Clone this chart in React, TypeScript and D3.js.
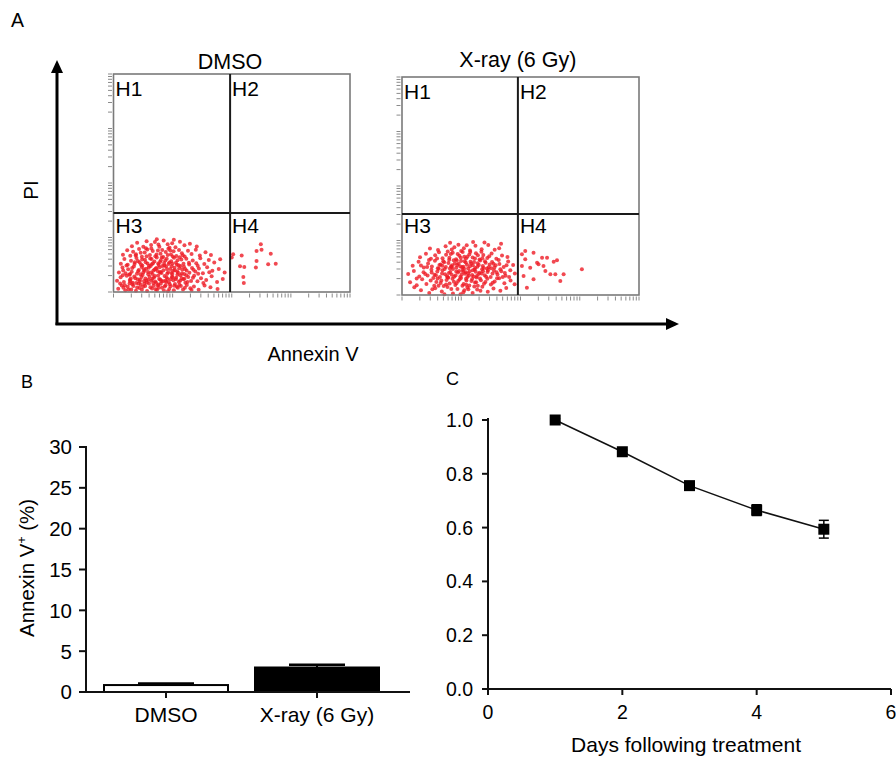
import React from 'react';
import * as d3 from 'd3';

const FONT = "'Liberation Sans', Arial, Helvetica, sans-serif";

// ---------- Panel A: flow cytometry (Annexin V vs PI), channel % of full scale ----------
const flowTitles = ['DMSO', 'X-ray (6 Gy)'];
const quadrantLabels = ['H1', 'H2', 'H3', 'H4'];
const gateXPct = [49.3, 48.9];
const gateYPct = [36.2, 37.2];

const dmsoEvents: [number, number][] = [
  [2,1.5],[3.5,3],[5,0.8],[6,2.4],[7.5,1.2],[8,3.6],[9.5,0.6],[10,2.1],[11.5,3.3],[12,1.0],[13.4,2.7],[14.2,0.5],[15,3.9],[16.3,1.6],[17,2.9],[18.4,0.9],[19,3.4],[20.5,2.0],[21.3,0.7],[22,3.1],[23.6,1.4],[24.1,2.6],[25.5,0.8],[26,3.7],[27.2,1.9],[28.5,2.8],[29.4,1.1],[31,3.2],[32.5,1.7],[34,2.5],[36,1.0],[38.5,3.0],[41,2.2],[44,1.4],[4.2,2.0],[6.8,3.9],[11,1.8],[13,3.8],[17.8,1.3],[20,3.8],[23,0.4],[26.8,2.4],[30.2,2.0],[33,0.9],
  [1.5,5.2],[3,6.8],[4.4,4.6],[5.6,7.5],[6.9,5.5],[8.1,4.3],[8.8,7.1],[10.2,5.9],[11.1,4.8],[12.3,7.8],[13.5,6.2],[14.1,4.4],[15.2,7.0],[16,5.3],[17.1,6.6],[18,4.2],[18.9,7.6],[19.8,5.7],[20.9,4.9],[21.6,7.3],[22.8,6.0],[23.4,4.5],[24.7,7.0],[25.3,5.4],[26.5,6.5],[27.6,4.7],[28.3,7.7],[29.5,5.8],[30.4,4.3],[31.6,6.9],[32.8,5.1],[34.1,7.4],[35.5,4.9],[37,6.3],[39.2,5.5],[41.5,7.2],[43.8,4.6],[46.2,6.0],[7.3,6.2],[9.6,4.1],[14.8,5.6],[19.3,6.0],[24.1,5.9],[27,7.9],[30,6.1],[12.9,5.0],[17.6,4.8],[21.9,5.2],
  [2.3,9.0],[3.8,11.2],[5.1,8.6],[6.2,10.4],[7.7,9.3],[8.6,11.7],[9.9,8.4],[10.7,10.1],[11.9,11.5],[12.6,8.9],[13.8,10.7],[14.6,9.2],[15.7,11.9],[16.5,8.3],[17.4,10.3],[18.6,9.6],[19.5,11.4],[20.3,8.7],[21.1,10.0],[22.2,11.8],[23.1,9.1],[24.0,10.6],[24.9,8.2],[25.8,11.1],[26.9,9.5],[27.8,10.9],[28.9,8.5],[29.8,11.6],[30.9,9.9],[32.1,8.8],[33.2,11.0],[34.6,9.4],[36.1,10.8],[37.8,8.6],[39.6,11.3],[41.8,9.7],[44.5,10.5],[47,8.9],[13.1,9.8],[16.9,9.9],[20.7,11.9],[25.2,9.8],[29.1,10.2],[11.4,8.1],[22.7,8.4],[18.1,11.0],
  [3.1,13.0],[4.6,15.1],[6.0,12.5],[7.4,14.3],[8.9,12.9],[9.7,15.6],[11.0,13.6],[12.2,12.2],[13.3,14.8],[14.4,13.1],[15.5,15.4],[16.2,12.7],[17.3,14.0],[18.3,15.8],[19.1,12.4],[20.0,14.6],[21.4,13.3],[22.5,15.2],[23.3,12.8],[24.4,14.1],[25.6,15.7],[26.4,13.4],[27.5,12.3],[28.7,14.9],[29.6,13.0],[30.8,15.3],[32.0,12.6],[33.5,14.4],[35.0,13.2],[36.7,15.5],[38.4,12.9],[40.3,14.7],[42.6,13.5],[45.1,15.0],[10.3,14.2],[15.0,12.0],[19.7,13.8],[24.9,13.0],[28.0,15.9],[21.9,14.5],
  [4.0,17.1],[5.8,19.2],[7.1,16.6],[8.3,18.5],[9.5,17.3],[10.8,19.7],[12.0,16.2],[13.2,18.1],[14.3,19.5],[15.4,17.0],[16.6,18.8],[17.7,16.4],[18.8,19.0],[19.9,17.6],[21.0,16.1],[22.1,18.4],[23.2,19.8],[24.3,17.2],[25.4,18.7],[26.6,16.5],[27.7,19.3],[28.9,17.8],[30.1,16.3],[31.5,18.9],[33.0,17.4],[34.8,19.4],[36.5,16.8],[38.9,18.2],[41.2,17.0],[16.0,20.0],[20.6,19.3],[11.5,18.0],
  [7.8,21.0],[10.0,22.6],[12.6,20.7],[14.0,23.3],[15.9,21.6],[17.5,22.9],[19.4,20.8],[21.2,23.6],[22.9,21.9],[24.8,22.4],[26.2,20.5],[28.1,23.0],[30.0,21.4],[32.3,22.1],[35.2,20.9],[18.3,24.2],[25.5,24.0],[23.7,20.3],
  [4.8,3.1],[6.4,1.1],[7.1,4.9],[8.4,2.7],[9.2,6.3],[10.6,3.9],[11.8,6.9],[12.5,2.4],[13.9,5.3],[14.7,8.1],[15.6,2.2],[16.8,4.1],[17.5,7.3],[18.7,3.0],[19.6,8.9],[20.2,5.0],[21.7,2.5],[22.4,6.8],[23.8,3.6],[24.5,8.7],[25.7,2.9],[26.3,5.9],[27.9,3.3],[28.8,6.3],[29.9,8.2],[31.3,4.6],[4.1,9.9],[5.5,12.1],[6.7,7.9],[7.9,11.0],[9.0,13.6],[10.4,9.5],[11.6,12.6],[12.8,10.4],[13.6,13.7],[14.9,11.1],[15.9,9.0],[16.7,13.2],[17.9,10.7],[18.9,13.1],[19.9,9.2],[21.5,12.2],[22.6,10.5],[23.6,13.5],[24.6,11.8],[25.9,10.0],[26.8,12.5],[27.3,8.8],[28.4,11.9],[30.3,10.6],[31.9,13.4],[33.8,10.2],[35.6,12.0],[12.1,14.9],[14.0,16.4],[16.1,15.1],[18.2,17.2],[20.4,15.8],[22.9,17.0],[25.1,16.3],[27.1,14.6],[29.3,16.9],[13.7,20.1],[19.0,21.8],[24.0,19.0],[9.4,16.8],[3.9,7.7],[2.8,3.9],[33.6,6.5],[35.8,8.4],[38.0,4.1],[40.5,9.1],[16.4,6.1],[19.1,1.9],[22.3,4.6],[25.0,6.8],[28.2,5.2],[11.2,5.6],[7.0,8.3],[30.8,7.7],
  [50.6,17.3],[54.2,16.8],[60.5,18.8],[62.3,21.9],[62.6,19.4],[66.5,17.6],[68.6,13.0],[65.4,12.7],[55.3,11.5],[60.2,11.2],[53.5,11.8],[55.1,4.1],[54.9,6.9],[50.0,15.8],[60.5,14.2],
];

const xrayEvents: [number, number][] = [
  [8,2.2],[11.5,0.9],[14,3.1],[16.8,1.6],[19.2,3.7],[21.5,0.7],[23.4,2.8],[25.9,1.3],[27.6,3.4],[29.8,0.9],[31.7,2.5],[33.9,3.8],[36.2,1.5],[38.6,3.0],[41.5,1.9],[17.9,0.4],[24.7,0.3],[5.2,3.5],[12.8,2.6],[30.5,3.9],[44,3.2],[26.3,2.2],
  [3.4,5.8],[6.2,4.5],[8.5,7.2],[10.3,5.1],[12.1,6.7],[13.6,4.3],[15.0,7.6],[16.3,5.5],[17.6,4.1],[18.8,6.9],[20.1,5.3],[21.3,7.5],[22.5,4.6],[23.7,6.4],[24.9,7.8],[26.0,5.0],[27.2,6.6],[28.4,4.4],[29.6,7.3],[30.8,5.7],[32.0,4.2],[33.3,6.8],[34.6,5.2],[36.0,7.4],[37.5,4.8],[39.1,6.2],[41.0,7.7],[43.2,5.4],[45.8,6.6],[47.5,4.9],[19.5,7.9],[25.5,4.2],[31.4,8.0],[14.5,6.0],
  [2.6,9.6],[5.0,11.0],[7.3,8.5],[9.1,10.4],[10.8,8.9],[12.4,11.6],[13.7,9.3],[14.9,10.8],[16.0,8.2],[17.1,11.3],[18.2,9.5],[19.3,8.1],[20.4,10.6],[21.5,11.9],[22.6,9.0],[23.6,10.3],[24.6,8.4],[25.6,11.5],[26.6,9.7],[27.6,8.2],[28.6,10.9],[29.6,9.2],[30.6,11.7],[31.6,8.7],[32.7,10.2],[33.8,11.8],[34.9,9.1],[36.1,10.6],[37.4,8.3],[38.8,11.2],[40.3,9.4],[41.9,10.9],[43.7,8.8],[45.7,11.4],[47.6,9.9],[19.8,10.1],[24.1,11.0],[28.2,8.9],[32.3,9.6],[15.5,12.0],[26.9,10.4],[22.0,8.4],
  [4.5,13.4],[7.0,15.2],[9.2,12.6],[11.0,14.5],[12.6,13.1],[13.9,15.7],[15.1,12.3],[16.3,14.0],[17.4,15.5],[18.5,12.8],[19.6,14.7],[20.7,13.2],[21.8,15.9],[22.9,12.5],[23.9,14.3],[24.9,15.6],[25.9,13.0],[26.9,14.9],[27.9,12.2],[28.9,15.3],[29.9,13.7],[30.9,12.4],[31.9,14.6],[33.0,15.8],[34.1,13.3],[35.3,14.8],[36.6,12.7],[38.0,15.1],[39.5,13.6],[41.1,14.2],[42.9,12.9],[44.8,15.4],[46.9,13.8],[20.2,12.1],[25.4,12.7],[30.4,15.1],[17.0,13.4],[27.4,13.9],[35.8,12.1],[22.3,14.4],
  [7.6,17.3],[10.1,18.9],[12.2,16.6],[14.0,18.2],[15.6,19.6],[17.1,16.9],[18.6,18.5],[20.0,17.1],[21.4,19.4],[22.8,16.4],[24.2,18.0],[25.6,19.7],[27.0,16.8],[28.4,18.6],[29.8,17.2],[31.2,19.2],[32.7,16.3],[34.3,18.3],[36.0,17.0],[37.8,19.0],[39.8,16.6],[42.2,18.1],[44.5,17.4],[19.3,19.9],[26.3,17.5],[33.5,19.8],[23.5,18.8],
  [11.8,21.3],[15.2,20.6],[18.4,22.4],[21.0,20.9],[23.8,23.1],[26.1,21.5],[28.7,20.4],[31.0,22.6],[33.6,21.0],[36.4,22.9],[39.1,20.7],[41.8,23.5],[20.3,24.0],[30.0,24.3],[25.0,20.2],[34.8,24.1],
  [14.3,9.1],[16.6,6.6],[18.0,11.9],[19.0,8.6],[20.9,12.9],[21.9,6.1],[22.9,10.8],[23.3,13.8],[24.3,7.1],[25.2,9.4],[26.2,12.0],[27.0,7.4],[27.9,10.0],[28.7,13.2],[29.3,6.4],[30.2,8.5],[31.1,10.7],[31.8,13.0],[32.9,7.6],[33.6,9.9],[34.4,12.4],[35.5,8.4],[36.3,11.4],[37.0,14.0],[38.2,9.9],[39.0,12.6],[40.1,7.7],[41.5,11.8],[15.8,13.8],[17.8,15.0],[19.9,16.2],[21.2,13.6],[23.1,15.8],[24.6,13.1],[26.4,15.5],[27.6,17.6],[29.2,14.4],[30.8,16.8],[32.4,13.8],[33.9,16.9],[35.0,15.5],[36.8,17.8],[38.6,14.3],[12.5,10.3],[10.6,12.8],[13.2,7.8],[18.6,4.8],[23.0,5.4],[27.1,4.7],[31.3,5.8],[35.2,6.0],[39.9,10.4],[42.5,8.2],[44.1,13.6],[16.9,9.9],[21.0,9.3],[25.8,10.7],[29.9,11.3],[34.2,10.9],[37.6,12.3],[20.6,18.8],[24.8,17.1],[28.8,19.7],[32.0,18.2],[22.1,21.9],[27.3,22.8],[14.8,16.8],[11.4,16.0],[40.8,16.1],[43.4,10.1],[9.8,9.6],[8.0,13.5],[6.2,7.6],[28.0,2.6],[33.1,2.0],[20.8,2.7],[15.4,4.2],[38.3,5.6],[45.2,8.3],[41.0,21.5],
  [50.6,18.7],[52.0,20.2],[55.5,19.4],[59.1,17.1],[61.2,17.1],[64.0,15.3],[65.4,15.9],[57.6,14.1],[54.1,12.5],[60.5,11.0],[62.6,9.5],[64.7,9.5],[68.2,9.5],[66.8,6.4],[51.3,8.7],[52.7,3.3],[75.9,11.8],[55.5,7.2],[50.6,13.3],[57.0,14.8],[59.7,13.3],[52.0,16.4],
];

const flowEvents = [dmsoEvents, xrayEvents];
const logTickValues: number[] = [];
[1, 10, 100, 1000].forEach((dec) => [1, 2, 3, 4, 5, 6, 7, 8, 9].forEach((m) => logTickValues.push(dec * m)));
logTickValues.push(10000);

// ---------- Panel B ----------
const barCategories = ['DMSO', 'X-ray (6 Gy)'];
const barMeans = [0.85, 3.0];
const barErrors = [0.2, 0.35];
const barFills = ['#ffffff', '#000000'];
const barYTicks = [0, 5, 10, 15, 20, 25, 30];

// ---------- Panel C ----------
const days = [1, 2, 3, 4, 5];
const viability = [1.0, 0.882, 0.756, 0.665, 0.594];
const viabilityErr = [0.005, 0.006, 0.008, 0.02, 0.033];
const cXTicks = [0, 2, 4, 6];
const cYTicks = [0, 0.2, 0.4, 0.6, 0.8, 1.0];

type Box = { x0: number; y0: number; x1: number; y1: number };

function FlowPlot({ box, idx, titleY }: { box: Box; idx: number; titleY: number }) {
  const xs = d3.scaleLinear().domain([0, 100]).range([box.x0, box.x1]);
  const ys = d3.scaleLinear().domain([0, 100]).range([box.y1, box.y0]);
  const lx = d3.scaleLog().domain([1, 10000]).range([box.x0, box.x1]);
  const ly = d3.scaleLog().domain([1, 10000]).range([box.y1, box.y0]);
  const gx = xs(gateXPct[idx]);
  const gy = ys(gateYPct[idx]);
  const events = flowEvents[idx];
  return (
    <g>
      <text x={gx} y={titleY} textAnchor="middle" fontSize={21.5} fontFamily={FONT} fill="#000">
        {flowTitles[idx]}
      </text>
      {logTickValues.map((v, i) => (
        <line key={'ly' + i} x1={box.x0 - 5.5} x2={box.x0 - 1.5} y1={ly(v)} y2={ly(v)} stroke="#8a8a8a" strokeWidth={1} />
      ))}
      {logTickValues.map((v, i) => (
        <line key={'lx' + i} x1={lx(v)} x2={lx(v)} y1={box.y1 + 1.5} y2={box.y1 + 5.5} stroke="#8a8a8a" strokeWidth={1} />
      ))}
      {events.map((p, i) => (
        <circle key={'e' + i} cx={xs(p[0])} cy={ys(p[1])} r={2.0} fill="#ee1c25" fillOpacity={0.8} />
      ))}
      <rect x={box.x0} y={box.y0} width={box.x1 - box.x0} height={box.y1 - box.y0} fill="none" stroke="#7a7a7a" strokeWidth={1.6} />
      <line x1={gx} x2={gx} y1={box.y0} y2={box.y1} stroke="#1a1a1a" strokeWidth={2} />
      <line x1={box.x0} x2={box.x1} y1={gy} y2={gy} stroke="#1a1a1a" strokeWidth={2} />
      {quadrantLabels.map((lab, i) => {
        const x = i % 2 === 0 ? box.x0 + 2 : gx + 2;
        const y = i < 2 ? box.y0 + 21.5 : gy + 19.5;
        return (
          <text key={lab} x={x} y={y} fontSize={21} fontFamily={FONT} fill="#000">
            {lab}
          </text>
        );
      })}
    </g>
  );
}

export default function App() {
  // Panel B scales
  const byScale = d3.scaleLinear().domain([0, 30]).range([692, 447]);
  const bxScale = d3.scalePoint<string>().domain(barCategories).range([166, 317]);
  const barW = 124;
  const capW = 56;

  // Panel C scales
  const cx = d3.scaleLinear().domain([0, 6]).range([488, 891]);
  const cy = d3.scaleLinear().domain([0, 1]).range([689, 420]);
  const linePath = d3
    .line<number>()
    .x((_, i) => cx(days[i]))
    .y((d) => cy(d))(viability) as string;

  return (
    <svg
      width={896}
      height={758}
      viewBox="0 0 896 758"
      style={{ position: 'absolute', left: 0, top: 0, background: '#fff' }}
      fontFamily={FONT}
    >
      <rect x={0} y={0} width={896} height={758} fill="#fff" />
      {/* Panel A */}
      <text x={11} y={27} fontSize={19.5} fill="#000">A</text>
      <line x1={57} x2={57} y1={325} y2={70} stroke="#000" strokeWidth={3} />
      <path d="M57,60 L51,73 L63,73 Z" fill="#000" />
      <line x1={55.5} x2={668} y1={324} y2={324} stroke="#000" strokeWidth={3} />
      <path d="M679,324 L666,318 L666,330 Z" fill="#000" />
      <text transform="translate(38,190) rotate(-90)" textAnchor="middle" fontSize={20.5} fill="#000">PI</text>
      <text x={313} y={361} textAnchor="middle" fontSize={20} fill="#000">Annexin V</text>
      <FlowPlot box={{ x0: 113.5, y0: 74, x1: 350, y1: 292 }} idx={0} titleY={69} />
      <FlowPlot box={{ x0: 402, y0: 77, x1: 639, y1: 295 }} idx={1} titleY={67} />

      {/* Panel B */}
      <text x={21} y={388} fontSize={18} fill="#000">B</text>
      {barCategories.map((c, i) => {
        const xc = bxScale(c) as number;
        return (
          <g key={c}>
            <rect
              x={xc - barW / 2}
              y={byScale(barMeans[i])}
              width={barW}
              height={byScale(0) - byScale(barMeans[i])}
              fill={barFills[i]}
              stroke="#000"
              strokeWidth={2}
            />
            <line x1={xc} x2={xc} y1={byScale(barMeans[i])} y2={byScale(barMeans[i] + barErrors[i])} stroke="#000" strokeWidth={2} />
            <line x1={xc - capW / 2} x2={xc + capW / 2} y1={byScale(barMeans[i] + barErrors[i])} y2={byScale(barMeans[i] + barErrors[i])} stroke="#000" strokeWidth={2.5} />
          </g>
        );
      })}
      <line x1={86} x2={86} y1={byScale(30) - 1} y2={byScale(0)} stroke="#111" strokeWidth={2} />
      <line x1={80} x2={410} y1={byScale(0)} y2={byScale(0)} stroke="#111" strokeWidth={2} />
      {barYTicks.map((t) => (
        <g key={'by' + t}>
          <line x1={79} x2={86} y1={byScale(t)} y2={byScale(t)} stroke="#111" strokeWidth={2} />
          <text x={72} y={byScale(t)} dy="0.36em" textAnchor="end" fontSize={20.5} fill="#000">{t}</text>
        </g>
      ))}
      {barCategories.map((c) => (
        <g key={'bx' + c}>
          <line x1={bxScale(c)} x2={bxScale(c)} y1={byScale(0)} y2={byScale(0) + 6} stroke="#111" strokeWidth={2} />
          <text x={bxScale(c)} y={722} textAnchor="middle" fontSize={21} fill="#000">{c}</text>
        </g>
      ))}
      <text transform="translate(34,568) rotate(-90)" textAnchor="middle" fontSize={20.5} fill="#000">
        Annexin V<tspan fontSize={12} dy={-8}>+</tspan>
        <tspan dy={8}> (%)</tspan>
      </text>

      {/* Panel C */}
      <text x={446} y={385} fontSize={18} fill="#000">C</text>
      <line x1={cx(0)} x2={cx(0)} y1={cy(1) - 2} y2={cy(0)} stroke="#111" strokeWidth={2} />
      <line x1={cx(0)} x2={cx(6)} y1={cy(0)} y2={cy(0)} stroke="#111" strokeWidth={2} />
      {cYTicks.map((t) => (
        <g key={'cy' + t}>
          <line x1={cx(0) - 6} x2={cx(0)} y1={cy(t)} y2={cy(t)} stroke="#111" strokeWidth={2} />
          <text x={473} y={cy(t)} dy="0.36em" textAnchor="end" fontSize={19.5} fill="#000">{t.toFixed(1)}</text>
        </g>
      ))}
      {cXTicks.map((t) => (
        <g key={'cx' + t}>
          <line x1={cx(t)} x2={cx(t)} y1={cy(0)} y2={cy(0) + 6} stroke="#111" strokeWidth={2} />
          <text x={cx(t)} y={719} textAnchor="middle" fontSize={19.5} fill="#000">{t}</text>
        </g>
      ))}
      <text x={686} y={752} textAnchor="middle" fontSize={21} fill="#000">Days following treatment</text>
      <path d={linePath} fill="none" stroke="#111" strokeWidth={1.5} />
      {days.map((d, i) => (
        <g key={'pt' + d}>
          <line x1={cx(d)} x2={cx(d)} y1={cy(viability[i] - viabilityErr[i])} y2={cy(viability[i] + viabilityErr[i])} stroke="#000" strokeWidth={1.5} />
          <line x1={cx(d) - 5} x2={cx(d) + 5} y1={cy(viability[i] + viabilityErr[i])} y2={cy(viability[i] + viabilityErr[i])} stroke="#000" strokeWidth={1.5} />
          <line x1={cx(d) - 5} x2={cx(d) + 5} y1={cy(viability[i] - viabilityErr[i])} y2={cy(viability[i] - viabilityErr[i])} stroke="#000" strokeWidth={1.5} />
          <rect x={cx(d) - 5.5} y={cy(viability[i]) - 5.5} width={11} height={11} fill="#000" />
        </g>
      ))}
    </svg>
  );
}
